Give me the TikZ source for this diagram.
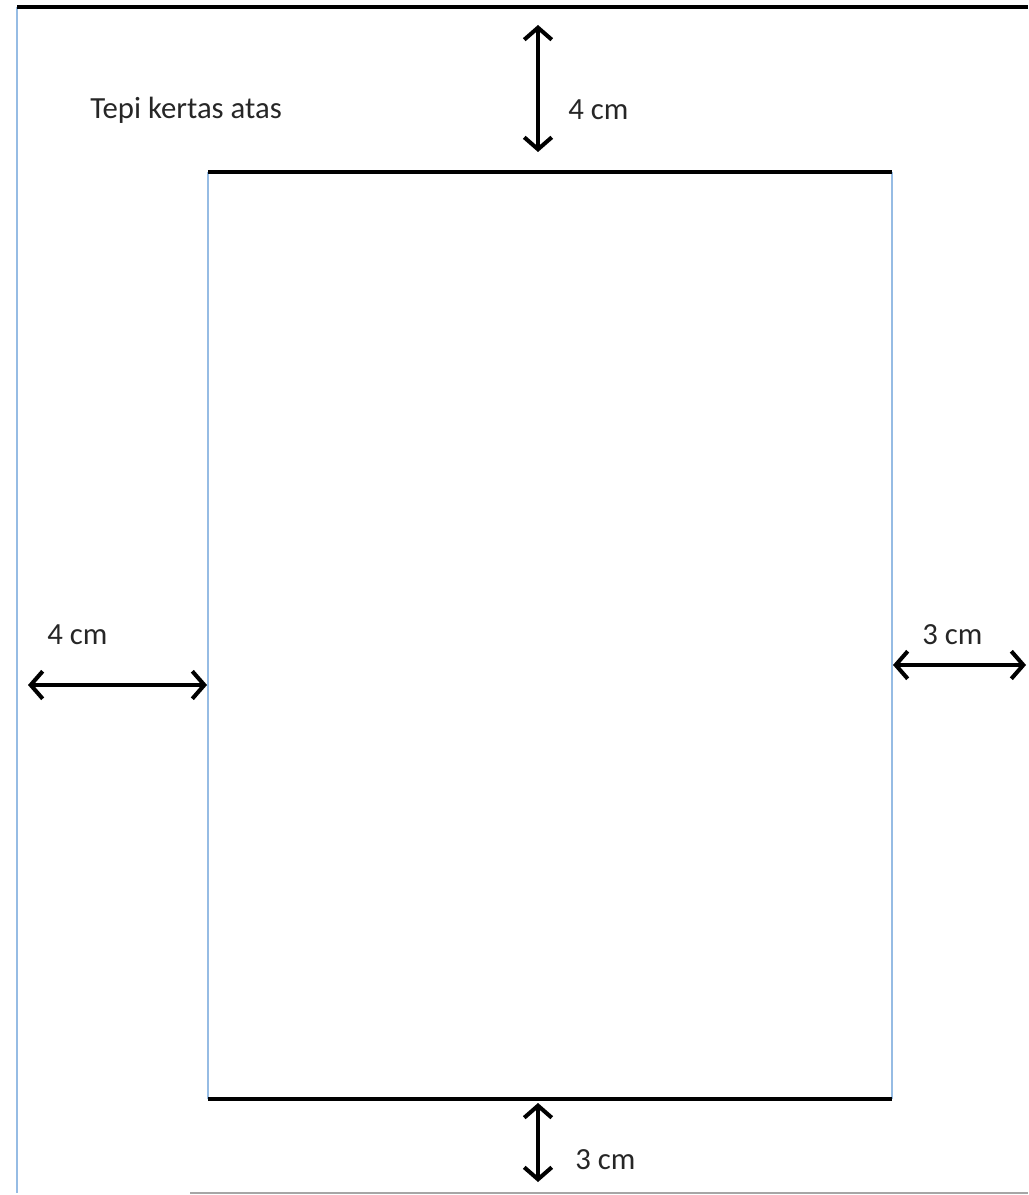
\documentclass[tikz,border=0pt]{standalone}
\usepackage{fontspec}
\setmainfont{Carlito}
\usetikzlibrary{arrows.meta}
\definecolor{sideblue}{RGB}{150,188,228}

\begin{document}
\begin{tikzpicture}[x=0.02cm,y=-0.02cm,>={Straight Barb[length=2.4mm,width=5.5mm]},
  paper line/.style={line width=2.6pt,black},
  side line/.style={line width=1pt,sideblue},
  margin arrow/.style={<->,line width=2.3pt},
  label text/.style={anchor=west,inner sep=0pt,font=\fontsize{17.5}{21}\selectfont,text=black!85}]

  \useasboundingbox (0,0) rectangle (1028,1195);

  % paper corners
  \coordinate (pTL) at (17,7);
  \coordinate (pTR) at (1028,7);
  \coordinate (pBL) at (17,1193);
  \coordinate (pBM) at (190,1193);
  \coordinate (pBR) at (1028,1193);
  % text area corners
  \coordinate (tTL) at (208,172);
  \coordinate (tTR) at (892,172);
  \coordinate (tBL) at (208,1099);
  \coordinate (tBR) at (892,1099);

  \draw[side line,line width=1.6pt] (pTL) -- (pBL);
  \draw[paper line] (pTL) -- (pTR);
  \draw[black!35,line width=1.2pt] (pBM) -- (pBR);

  \draw[side line] (tTL) -- (tBL);
  \draw[side line] (tTR) -- (tBR);
  \draw[paper line] (tTL) -- (tTR);
  \draw[paper line] (tBL) -- (tBR);

  % margin arrows
  \coordinate (top1) at (538,25);
  \coordinate (top2) at (538,152);
  \coordinate (left1) at (28,685);
  \coordinate (left2) at (207,685);
  \coordinate (right1) at (893,665);
  \coordinate (right2) at (1026,665);
  \coordinate (bot1) at (538,1103);
  \coordinate (bot2) at (538,1182);

  \draw[margin arrow] (top1) -- (top2);
  \draw[margin arrow] (left1) -- (left2);
  \draw[margin arrow] (right1) -- (right2);
  \draw[margin arrow] (bot1) -- (bot2);

  \node[label text] (title) at (90,110) {Tepi kertas atas};
  \node[label text] (toplab) at (568,110) {4 cm};
  \node[label text] (leftlab) at (47,635) {4 cm};
  \node[label text] (rightlab) at (922,635) {3 cm};
  \node[label text] (botlab) at (575,1160) {3 cm};
\end{tikzpicture}
\end{document}
